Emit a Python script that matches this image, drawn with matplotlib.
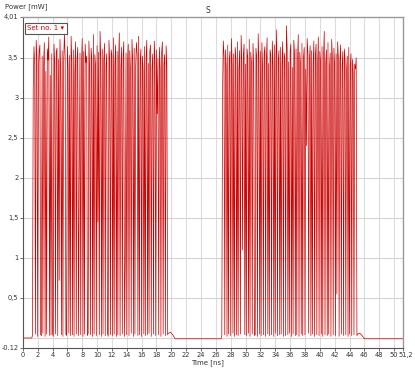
import numpy as np
import matplotlib
matplotlib.use("Agg")
import matplotlib.pyplot as plt
from matplotlib.transforms import ScaledTranslation

# ---- data (power in mW, time in ns) ----
lead_t = [0.0, 1.2]
lead_p = [0.0, 0.0]

burst1_start = 1.3
burst1_step = 0.1
burst1_p = [
    0.03, 3.10, 3.64, 3.41, 0.05, 3.72, 3.50, 0.02, 3.37, 3.58,
    3.66, 0.04, 0.03, 3.52, 0.06, 3.44, 3.69, 0.02, 3.33, 0.05,
    3.61, 3.47, 3.76, 0.03, 3.28, 0.04, 3.55, 0.06, 0.02, 3.67,
    3.43, 0.05, 3.57, 3.62, 0.03, 3.48, 0.72, 3.73, 3.35, 0.04,
    3.59, 0.02, 3.45, 3.80, 3.51, 0.05, 0.03, 3.64, 3.38, 0.06,
    3.53, 0.03, 3.77, 3.46, 0.04, 3.60, 0.02, 3.32, 3.70, 0.05,
    3.49, 3.63, 0.03, 2.05, 3.56, 0.04, 3.41, 3.74, 0.02, 3.58,
    0.05, 3.67, 3.44, 3.52, 0.03, 0.06, 3.71, 3.36, 0.04, 3.62,
    3.48, 0.02, 3.79, 0.05, 3.54, 3.40, 0.03, 3.65, 1.45, 3.57,
    0.04, 3.83, 3.50, 0.02, 3.61, 0.05, 3.46, 3.68, 0.03, 3.39,
    3.55, 0.06, 0.02, 3.72, 3.47, 0.04, 3.60, 3.53, 0.03, 3.75,
    0.05, 3.42, 3.66, 0.02, 3.58, 0.04, 3.49, 3.81, 0.03, 3.37,
    3.63, 0.05, 3.51, 3.70, 0.02, 0.95, 3.56, 0.04, 3.44, 3.67,
    0.03, 3.59, 3.35, 0.06, 3.73, 3.48, 0.02, 3.62, 0.05, 3.40,
    3.69, 3.54, 0.03, 3.77, 0.04, 3.45, 3.61, 0.02, 3.52, 3.34,
    0.05, 3.64, 0.03, 3.50, 3.72, 0.04, 3.43, 0.06, 3.58, 3.66,
    0.02, 3.38, 3.55, 0.05, 3.71, 3.47, 0.03, 3.60, 2.80, 3.49,
    0.04, 3.63, 3.36, 0.02, 3.57, 3.70, 0.05, 3.42, 3.54, 0.03,
    3.65, 3.40, 0.04,
]

gap_t = [19.6, 19.9, 20.2, 20.5, 26.7]
gap_p = [0.06, 0.07, 0.04, -0.01, -0.01]

burst2_start = 26.8
burst2_step = 0.1
burst2_p = [
    0.03, 3.05, 3.71, 3.52, 0.04, 3.60, 3.38, 0.02, 3.66, 0.05,
    3.47, 3.58, 0.03, 3.74, 3.41, 0.06, 3.55, 0.02, 3.63, 3.49,
    0.04, 3.70, 0.03, 3.36, 3.59, 0.05, 3.78, 3.45, 1.10, 3.54,
    3.67, 0.04, 3.42, 0.03, 3.61, 3.50, 0.06, 3.73, 0.02, 3.57,
    3.44, 0.05, 3.68, 3.39, 0.03, 0.04, 3.62, 3.51, 0.02, 3.80,
    3.46, 0.05, 3.58, 0.03, 3.69, 3.37, 0.04, 3.55, 3.64, 0.02,
    3.48, 3.75, 0.05, 3.43, 0.03, 3.60, 3.53, 0.04, 3.71, 3.40,
    0.02, 3.66, 0.06, 3.52, 3.85, 0.03, 3.47, 3.59, 0.04, 3.63,
    0.05, 3.41, 3.70, 0.02, 3.56, 3.49, 0.03, 3.90, 3.62, 0.04,
    3.45, 0.06, 3.58, 3.67, 0.02, 3.38, 0.05, 3.72, 3.54, 0.03,
    3.61, 0.04, 3.46, 3.79, 0.02, 3.57, 3.43, 0.05, 3.68, 0.03,
    3.50, 3.63, 0.04, 3.36, 2.40, 3.74, 3.55, 0.06, 3.48, 3.65,
    0.03, 3.59, 0.05, 3.42, 3.71, 0.02, 3.53, 3.67, 0.04, 3.40,
    3.76, 0.03, 3.58, 3.46, 0.05, 3.64, 0.02, 3.51, 3.83, 0.04,
    3.44, 3.60, 0.03, 3.69, 0.05, 3.37, 3.56, 0.02, 3.73, 3.48,
    0.04, 3.62, 3.41, 0.03, 3.55, 0.55, 3.70, 3.50, 0.02, 3.45,
    3.66, 0.05, 3.39, 3.58, 0.03, 3.61, 3.47, 0.04, 3.35, 3.52,
    0.02, 3.63, 0.05, 3.40, 3.55, 0.03, 3.48, 3.30, 0.04, 3.42,
    3.36, 3.50, 0.03,
]

tail_t = [45.1, 45.4, 45.7, 46.0, 51.2]
tail_p = [0.05, 0.06, 0.03, -0.01, -0.01]

ytick_vals = [-0.12, 0.5, 1.0, 1.5, 2.0, 2.5, 3.0, 3.5, 4.01]
ytick_labels = ["-0.12", "0,5", "1", "1,5", "2", "2,5", "3", "3,5", "4,01"]
xtick_vals = list(range(0, 52, 2)) + [51.2]
xtick_labels = [str(v) for v in range(0, 52, 2)] + ["51,2"]

# ---- assemble series ----
t1 = burst1_start + burst1_step * np.arange(len(burst1_p))
t2 = burst2_start + burst2_step * np.arange(len(burst2_p))
t = np.concatenate([lead_t, t1, gap_t, t2, tail_t])
p = np.concatenate([lead_p, burst1_p, gap_p, burst2_p, tail_p])

fig = plt.figure(figsize=(4.15, 3.69), dpi=100)
ax = fig.add_axes([0.055, 0.058, 0.916, 0.896])

ax.plot(t, p, color="#cc0000", lw=0.5)

ax.set_xlim(0, 51.2)
ax.set_ylim(-0.12, 4.01)

ax.set_xticks(xtick_vals)
ax.set_xticklabels(xtick_labels)
ax.set_yticks(ytick_vals)
ax.set_yticklabels(ytick_labels)
ax.tick_params(labelsize=4.8, length=2, width=0.5, colors="#333333", pad=1.2)
# nudge the last x label a little to the right, as in the reference
last = ax.get_xticklabels()[-1]
last.set_transform(last.get_transform() + ScaledTranslation(3 / 100, 0, fig.dpi_scale_trans))

for v in range(0, 52, 2):
    ax.axvline(v, color="#dcdcdc", lw=0.8, zorder=0)
for v in [0.0, 0.5, 1.0, 1.5, 2.0, 2.5, 3.0, 3.5]:
    ax.axhline(v, color="#d4d4d4", lw=0.8, zorder=0)

for side in ["left", "bottom"]:
    ax.spines[side].set_color("#555555")
    ax.spines[side].set_linewidth(0.8)
for side in ["top", "right"]:
    ax.spines[side].set_color("#999999")
    ax.spines[side].set_linewidth(1.0)

fig.text(0.5, 0.972, "S", ha="center", va="center", fontsize=5.5, color="#333333")
fig.text(0.012, 0.982, "Power [mW]", ha="left", va="center", fontsize=5, color="#333333")
fig.text(0.5, 0.018, "Time [ns]", ha="center", va="center", fontsize=5, color="#333333")

ax.text(0.012, 0.975, "Set no. 1 \u25be", transform=ax.transAxes, ha="left", va="top",
        fontsize=5, color="#cc0000",
        bbox=dict(boxstyle="square,pad=0.35", fc="white", ec="#555555", lw=0.8))

fig.savefig("out.png", dpi=100)
